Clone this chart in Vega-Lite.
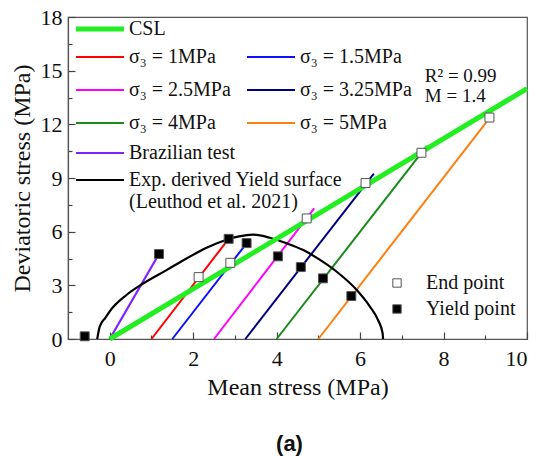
{
  "$schema": "https://vega.github.io/schema/vega-lite/v6.json",
  "width": 459,
  "height": 322,
  "autosize": {"type": "none"},
  "padding": {"left": 68, "top": 17, "right": 13, "bottom": 117},
  "background": "white",
  "title": {"text": "(a)", "orient": "bottom", "font": "Liberation Sans", "fontSize": 22, "fontWeight": "bold", "offset": 35, "color": "#111", "dx": -8},
  "datasets": {
    "csl": [
      {"series": "CSL", "p": 0, "q": 0},
      {"series": "CSL", "p": 10, "q": 14}
    ],
    "paths": [
      {"series": "σ₃ = 1MPa", "p": 1, "q": 0},
      {"series": "σ₃ = 1MPa", "p": 2.85, "q": 5.6},
      {"series": "σ₃ = 1.5MPa", "p": 1.5, "q": 0},
      {"series": "σ₃ = 1.5MPa", "p": 3.28, "q": 5.35},
      {"series": "σ₃ = 2.5MPa", "p": 2.5, "q": 0},
      {"series": "σ₃ = 2.5MPa", "p": 4.9, "q": 7.3},
      {"series": "σ₃ = 3.25MPa", "p": 3.25, "q": 0},
      {"series": "σ₃ = 3.25MPa", "p": 6.33, "q": 9.25},
      {"series": "σ₃ = 4MPa", "p": 4, "q": 0},
      {"series": "σ₃ = 4MPa", "p": 7.6, "q": 10.8},
      {"series": "σ₃ = 5MPa", "p": 5, "q": 0},
      {"series": "σ₃ = 5MPa", "p": 9.12, "q": 12.4}
    ],
    "other": [
      {"series": "Brazilian test", "p": 0, "q": 0},
      {"series": "Brazilian test", "p": 1.18, "q": 4.75},
      {"series": "Exp. derived Yield surface", "p": -0.3, "q": 0},
      {"series": "Exp. derived Yield surface", "p": -0.24, "q": 0.69},
      {"series": "Exp. derived Yield surface", "p": -0.1, "q": 1.2},
      {"series": "Exp. derived Yield surface", "p": 0, "q": 1.55},
      {"series": "Exp. derived Yield surface", "p": 0.4, "q": 2.46},
      {"series": "Exp. derived Yield surface", "p": 0.8, "q": 3.1},
      {"series": "Exp. derived Yield surface", "p": 1.36, "q": 3.85},
      {"series": "Exp. derived Yield surface", "p": 1.84, "q": 4.5},
      {"series": "Exp. derived Yield surface", "p": 2.32, "q": 5.1},
      {"series": "Exp. derived Yield surface", "p": 2.8, "q": 5.55},
      {"series": "Exp. derived Yield surface", "p": 3.1, "q": 5.74},
      {"series": "Exp. derived Yield surface", "p": 3.44, "q": 5.83},
      {"series": "Exp. derived Yield surface", "p": 3.84, "q": 5.66},
      {"series": "Exp. derived Yield surface", "p": 4.24, "q": 5.35},
      {"series": "Exp. derived Yield surface", "p": 4.64, "q": 4.97},
      {"series": "Exp. derived Yield surface", "p": 5.04, "q": 4.42},
      {"series": "Exp. derived Yield surface", "p": 5.44, "q": 3.76},
      {"series": "Exp. derived Yield surface", "p": 5.92, "q": 2.74},
      {"series": "Exp. derived Yield surface", "p": 6.24, "q": 1.8},
      {"series": "Exp. derived Yield surface", "p": 6.43, "q": 1.06},
      {"series": "Exp. derived Yield surface", "p": 6.54, "q": 0.32},
      {"series": "Exp. derived Yield surface", "p": 6.55, "q": 0}
    ],
    "pts": [
      {"kind": "End point", "p": 2.13, "q": 3.46},
      {"kind": "End point", "p": 2.89, "q": 4.26},
      {"kind": "End point", "p": 4.72, "q": 6.74},
      {"kind": "End point", "p": 6.13, "q": 8.72},
      {"kind": "End point", "p": 7.47, "q": 10.41},
      {"kind": "End point", "p": 9.1, "q": 12.38},
      {"kind": "Yield point", "p": -0.6, "q": 0.15},
      {"kind": "Yield point", "p": 1.18, "q": 4.75},
      {"kind": "Yield point", "p": 2.85, "q": 5.6},
      {"kind": "Yield point", "p": 3.28, "q": 5.36},
      {"kind": "Yield point", "p": 4.03, "q": 4.62},
      {"kind": "Yield point", "p": 4.58, "q": 4.02},
      {"kind": "Yield point", "p": 5.11, "q": 3.39},
      {"kind": "Yield point", "p": 5.79, "q": 2.4}
    ],
    "notes": [
      {"p": 7.55, "q": 14.72, "t": "R² = 0.99"},
      {"p": 7.55, "q": 13.58, "t": "M = 1.4"}
    ]
  },
  "encoding": {
    "x": {
      "field": "p", "type": "quantitative",
      "scale": {"domain": [-1, 10], "nice": false, "zero": false},
      "axis": {
        "title": "Mean stress (MPa)",
        "values": [0, 1, 2, 3, 4, 5, 6, 7, 8, 9, 10],
        "labelExpr": "datum.value % 2 == 0 ? datum.label : ''",
        "tickSize": {"condition": {"test": "datum.value % 2 == 0", "value": -7}, "value": -4},
        "labelPadding": 16,
        "grid": false
      }
    },
    "y": {
      "field": "q", "type": "quantitative",
      "scale": {"domain": [0, 18], "nice": false},
      "axis": {
        "title": "Deviatoric stress (MPa)",
        "values": [0, 1.5, 3, 4.5, 6, 7.5, 9, 10.5, 12, 13.5, 15, 16.5, 18],
        "labelExpr": "datum.value % 3 == 0 ? datum.label : ''",
        "tickSize": {"condition": {"test": "datum.value % 3 == 0", "value": -7}, "value": -4},
        "labelPadding": 13,
        "grid": false
      }
    }
  },
  "layer": [
    {
      "data": {"name": "paths"},
      "mark": {"type": "line", "strokeWidth": 2},
      "encoding": {
        "color": {
          "field": "series", "type": "nominal",
          "scale": {
            "domain": ["σ₃ = 1MPa", "σ₃ = 2.5MPa", "σ₃ = 4MPa", "σ₃ = 1.5MPa", "σ₃ = 3.25MPa", "σ₃ = 5MPa"],
            "range": ["#ff0000", "#ff00ff", "#1a8a1a", "#1010ff", "#00007f", "#ff7f0e"]
          },
          "legend": {
            "orient": "none", "legendX": 4, "legendY": 30, "columns": 2, "title": null, "padding": 0,
            "symbolType": "M-1,0H7", "symbolSize": 144, "symbolStrokeWidth": 2, "labelOffset": 37,
            "labelFont": "Liberation Serif", "labelFontSize": 20, "labelColor": "#111",
            "rowPadding": 13, "columnPadding": 12, "labelLimit": 300
          }
        }
      }
    },
    {
      "data": {"name": "other"},
      "mark": {"type": "line", "strokeWidth": 2.2, "interpolate": "monotone"},
      "encoding": {
        "color": {
          "field": "series", "type": "nominal",
          "scale": {"domain": ["Brazilian test", "Exp. derived Yield surface"], "range": ["#8020ff", "#000000"]},
          "legend": {
            "orient": "none", "legendX": 4, "legendY": 126, "title": null, "padding": 0,
            "symbolType": "M-1,0H7", "symbolSize": 144, "symbolStrokeWidth": 2, "labelOffset": 37,
            "labelFont": "Liberation Serif", "labelFontSize": 20, "labelColor": "#111",
            "rowPadding": 7, "labelLimit": 300,
            "labelExpr": "datum.label == 'Exp. derived Yield surface' ? ['Exp. derived Yield surface', '(Leuthod et al. 2021)'] : datum.label"
          }
        }
      }
    },
    {
      "data": {"name": "csl"},
      "mark": {"type": "line", "strokeWidth": 5},
      "encoding": {
        "color": {
          "field": "series", "type": "nominal",
          "scale": {"domain": ["CSL"], "range": ["#22ee22"]},
          "legend": {
            "orient": "none", "legendX": 4, "legendY": 2, "title": null, "padding": 0,
            "symbolType": "M-1,0H7", "symbolSize": 144, "symbolStrokeWidth": 5, "labelOffset": 37,
            "labelFont": "Liberation Serif", "labelFontSize": 20, "labelColor": "#111"
          }
        }
      }
    },
    {
      "data": {"name": "notes"},
      "mark": {"type": "text", "align": "left", "baseline": "middle", "font": "Liberation Serif", "fontSize": 19, "color": "#111"},
      "encoding": {"text": {"field": "t"}}
    },
    {
      "data": {"name": "pts"},
      "mark": {"type": "point", "shape": "square", "size": 80, "filled": true, "stroke": "#555", "strokeWidth": 1, "opacity": 1},
      "encoding": {
        "fill": {
          "field": "kind", "type": "nominal",
          "scale": {"domain": ["End point", "Yield point"], "range": ["#ffffff", "#000000"]},
          "legend": {
            "orient": "none", "legendX": 319, "legendY": 256, "title": null, "padding": 0,
            "symbolType": "square", "symbolSize": 70, "symbolStrokeColor": "#555", "symbolStrokeWidth": 1,
            "labelOffset": 19, "labelFont": "Liberation Serif", "labelFontSize": 20, "labelColor": "#111",
            "rowPadding": 6
          }
        }
      }
    }
  ],
  "resolve": {"scale": {"color": "independent"}},
  "config": {
    "view": {"stroke": "#555", "strokeWidth": 1.2},
    "axis": {
      "domainColor": "#555", "domainWidth": 1.2, "tickColor": "#444", "tickWidth": 1.2,
      "labelFont": "Liberation Serif", "labelFontSize": 22, "labelColor": "#111",
      "titleFont": "Liberation Serif", "titleFontSize": 24, "titleFontWeight": "normal", "titleColor": "#111"
    },
    "axisX": {"titlePadding": 6},
    "axisY": {"titlePadding": 6}
  }
}
